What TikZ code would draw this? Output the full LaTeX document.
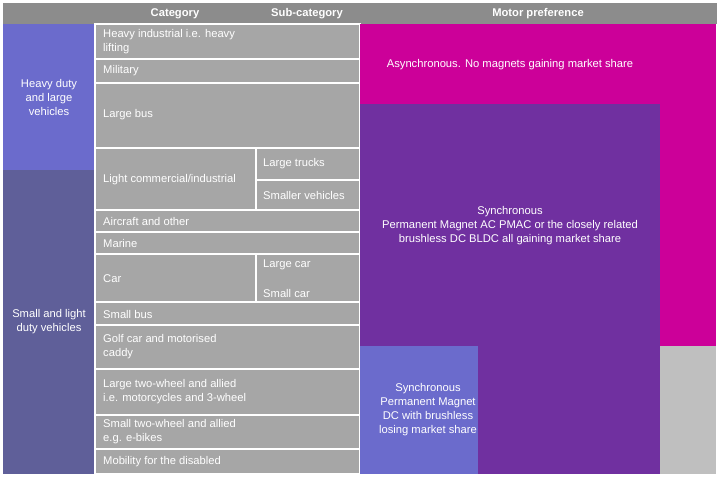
\documentclass[tikz,border=0pt]{standalone}
\usepackage{fontspec}
\setmainfont{Liberation Sans}
\definecolor{hdrgray}{HTML}{8C8C8C}
\definecolor{cellgray}{HTML}{A6A6A6}
\definecolor{heavyblue}{HTML}{6B6BCC}
\definecolor{lightblue}{HTML}{5F5F99}
\definecolor{asyncpink}{HTML}{CC0099}
\definecolor{syncpurple}{HTML}{7030A0}
\definecolor{restgray}{HTML}{BFBFBF}
\tikzset{
  cell/.style={fill=cellgray, draw=white, line width=1.2pt},
  celltext/.style={anchor=west, align=left, text=white, font=\fontsize{11.2}{14}\selectfont, inner sep=0pt},
  boxtext/.style={align=center, text=white, font=\fontsize{11.2}{14}\selectfont},
  hdrtext/.style={text=white, font=\bfseries\fontsize{11.2}{14}\selectfont}
}
\begin{document}
\begin{tikzpicture}[x=1pt,y=-1pt]
\useasboundingbox (0,0) rectangle (720,478);

% header bar
\fill [hdrgray] (3,3) rectangle (717,24);
\node [hdrtext] (hcat) at (175,14) {Category};
\node [hdrtext] (hsub) at (307,14) {Sub-category};
\node [hdrtext] (hmot) at (538,14) {Motor preference};

% left column
\fill [heavyblue] (3,24) rectangle (95,170);
\fill [lightblue] (3,170) rectangle (95,474);
\node [boxtext] (heavy) at (49,97) {Heavy duty\\and large\\vehicles};
\node [boxtext] (light) at (49,322) {Small and light\\duty vehicles};

% category cells
\draw [cell] (95,24) rectangle (360,59);
\draw [cell] (95,59) rectangle (360,83);
\draw [cell] (95,83) rectangle (360,148);
\draw [cell] (95,148) rectangle (256,210);
\draw [cell] (256,148) rectangle (360,180);
\draw [cell] (256,180) rectangle (360,210);
\draw [cell] (95,210) rectangle (360,232);
\draw [cell] (95,232) rectangle (360,254);
\draw [cell] (95,254) rectangle (256,302);
\draw [cell] (256,254) rectangle (360,302);
\draw [cell] (95,302) rectangle (360,325);
\draw [cell] (95,325) rectangle (360,369);
\draw [cell] (95,369) rectangle (360,415);
\draw [cell] (95,415) rectangle (360,449);
\draw [cell] (95,449) rectangle (360,474);

\node [celltext] (hind) at (103,42) {Heavy industrial i.e. heavy\\lifting};
\node [celltext] (mil) at (103,71) {Military};
\node [celltext] (lbus) at (103,115) {Large bus};
\node [celltext] (lcom) at (103,180) {Light commercial/industrial};
\node [celltext] (ltruck) at (263,164) {Large trucks};
\node [celltext] (svehi) at (263,195) {Smaller vehicles};
\node [celltext] (air) at (103,221) {Aircraft and other};
\node [celltext] (mar) at (103,243) {Marine};
\node [celltext] (car) at (103,279) {Car};
\node [celltext] (lcar) at (263,265) {Large car};
\node [celltext] (scar) at (263,293) {Small car};
\node [celltext] (sbus) at (103,314) {Small bus};
\node [celltext] (golf) at (103,347) {Golf car and motorised\\caddy};
\node [celltext] (ltwo) at (103,392) {Large two-wheel and allied\\i.e. motorcycles and 3-wheel};
\node [celltext] (stwo) at (103,432) {Small two-wheel and allied\\e.g. e-bikes};
\node [celltext] (mob) at (103,462) {Mobility for the disabled};

% motor preference
\fill [asyncpink] (360,24) rectangle (716,346);
\fill [restgray] (660,346) rectangle (716,474);
\fill [syncpurple] (360,104) rectangle (660,474);
\fill [heavyblue] (360,346) rectangle (478,474);
\node [boxtext] (async) at (510,65) {Asynchronous. No magnets gaining market share};
\node [boxtext] (pmac) at (510,226) {Synchronous\\Permanent Magnet AC PMAC or the closely related\\brushless DC BLDC all gaining market share};
\node [boxtext] (pmdc) at (428,410) {Synchronous\\Permanent Magnet\\DC with brushless\\losing market share};
\end{tikzpicture}
\end{document}
